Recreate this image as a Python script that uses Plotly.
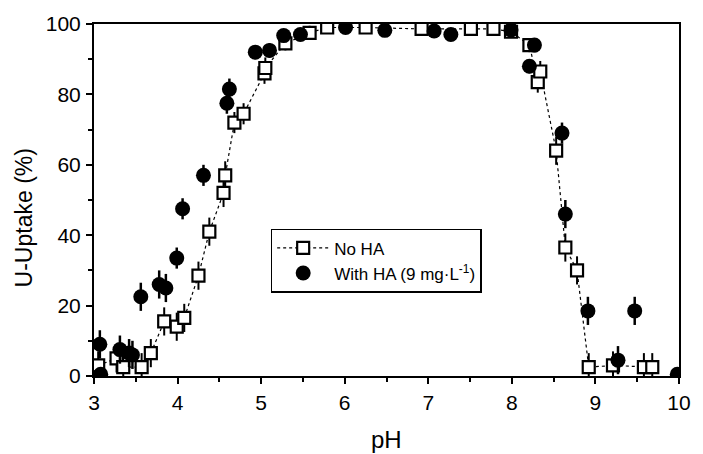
import plotly.graph_objects as go

# U uptake vs pH, without humic acid (open squares)
ph_no_ha = [3.05, 3.27, 3.35, 3.57, 3.68, 3.84, 3.99, 4.08, 4.25, 4.38, 4.55, 4.57,
            4.68, 4.79, 5.04, 5.05, 5.29, 5.58, 5.79, 6.25, 6.92, 7.51, 7.78, 7.99,
            8.21, 8.31, 8.34, 8.53, 8.64, 8.78, 8.92, 9.21, 9.58, 9.68]
u_no_ha = [3.0, 5.0, 2.5, 2.5, 6.5, 15.5, 14.0, 16.5, 28.5, 41.0, 52.0, 57.0,
           72.0, 74.5, 86.0, 87.5, 94.5, 97.5, 99.0, 99.0, 98.6, 98.6, 98.6, 97.8,
           94.0, 83.5, 86.5, 64.0, 36.5, 30.0, 2.5, 3.0, 2.5, 2.5]
err_no_ha = [4, 4, 4, 4, 4, 4, 4, 4, 4, 4, 4, 4,
             3, 3, 3, 3, 2, 2, 1, 1, 1, 1, 1, 1,
             2, 3, 3, 4, 4, 4, 4, 4, 4, 4]

# U uptake vs pH, with humic acid 9 mg/L (filled circles)
ph_ha = [3.07, 3.08, 3.31, 3.42, 3.46, 3.56, 3.78, 3.86, 3.99, 4.06, 4.31, 4.59,
         4.62, 4.93, 5.10, 5.27, 5.47, 6.01, 6.48, 7.07, 7.27, 7.99, 8.21, 8.27,
         8.60, 8.64, 8.91, 9.27, 9.47, 9.98]
u_ha = [9.0, 0.5, 7.5, 6.5, 6.0, 22.5, 26.0, 25.0, 33.5, 47.5, 57.0, 77.5,
        81.5, 92.0, 92.5, 96.7, 97.0, 99.0, 98.2, 98.0, 97.0, 98.3, 88.0, 94.0,
        69.0, 46.0, 18.5, 4.5, 18.5, 0.5]
err_ha = [4, 0, 4, 4, 4, 4, 4, 4, 3, 3, 3, 3,
          3, 2, 2, 1, 1, 1, 1, 1, 1, 1, 2, 2,
          3, 4, 4, 4, 4, 0]

x_ticks = [3, 4, 5, 6, 7, 8, 9, 10]
y_ticks = [0, 20, 40, 60, 80, 100]

FONT = "Liberation Sans, Arial, sans-serif"

fig = go.Figure()

fig.add_trace(go.Scatter(
    x=ph_no_ha, y=u_no_ha, name="No HA",
    mode="lines+markers",
    line=dict(color="black", width=1.2, dash="dot"),
    marker=dict(symbol="square", size=12, color="white",
                line=dict(color="black", width=2.2)),
    error_y=dict(type="data", array=err_no_ha, color="black",
                 thickness=2, width=0),
))

fig.add_trace(go.Scatter(
    x=ph_ha, y=u_ha, name="With HA (9 mg·L<sup>-1</sup>)",
    mode="markers",
    marker=dict(symbol="circle", size=15, color="black",
                line=dict(color="black", width=0)),
    error_y=dict(type="data", array=err_ha, color="black",
                 thickness=2.5, width=0),
))

axis_common = dict(
    showline=True, linecolor="black", linewidth=2, mirror=True,
    ticks="outside", ticklen=6, tickwidth=2, tickcolor="black",
    showgrid=False, zeroline=False,
    tickfont=dict(family=FONT, size=21, color="black"),
)

fig.update_xaxes(
    range=[3, 10], tickvals=x_ticks, ticktext=[str(v) for v in x_ticks],
    minor=dict(ticks="outside", ticklen=4, tickwidth=1.5, tickcolor="black",
               dtick=0.5),
    ticklabelstandoff=1,
    **axis_common,
)
fig.update_yaxes(
    range=[0, 100], tickvals=y_ticks, ticktext=[str(v) for v in y_ticks],
    minor=dict(ticks="outside", ticklen=4, tickwidth=1.5, tickcolor="black",
               dtick=10),
    ticklabelstandoff=1,
    **axis_common,
)

fig.add_annotation(
    text="pH", xref="paper", yref="paper", x=0.5, y=-0.18,
    xanchor="center", yanchor="middle", showarrow=False,
    font=dict(family=FONT, size=24, color="black"),
)
fig.add_annotation(
    text="U-Uptake (%)", xref="paper", yref="paper", x=-0.12, y=0.45,
    xanchor="center", yanchor="middle", textangle=-90, showarrow=False,
    font=dict(family=FONT, size=23, color="black"),
)

fig.update_layout(
    width=703, height=454,
    margin=dict(l=94, r=14, t=20, b=78),
    paper_bgcolor="white", plot_bgcolor="white",
    showlegend=True,
    legend=dict(
        x=0.302, y=0.418, xanchor="left", yanchor="top",
        bgcolor="white", bordercolor="black", borderwidth=1.5,
        font=dict(family=FONT, size=17, color="black"),
        itemwidth=52, tracegroupgap=0,
    ),
)

fig.write_html("out.html")
